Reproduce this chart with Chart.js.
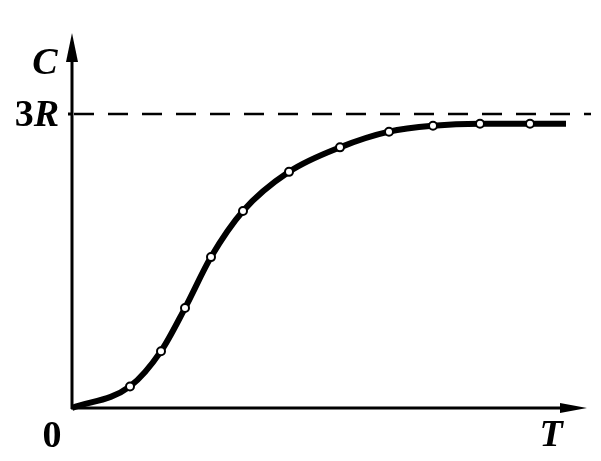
<!DOCTYPE html>
<html>
<head>
<meta charset="utf-8">
<script src="https://cdn.jsdelivr.net/npm/chart.js@4/dist/chart.umd.min.js"></script>
<style>
  html, body { margin: 0; padding: 0; background: #fff; }
  canvas { display: block; }
</style>
</head>
<body>
<canvas id="heat-chart" width="601" height="461"></canvas>
<script>
// temperature T (arbitrary units) and heat capacity C (in units of R)
const tValues = [0, 1.16, 1.78, 2.26, 2.78, 3.42, 4.34, 5.36, 6.34, 7.22, 8.16, 9.16, 9.88];
const cValues = [0, 0.22, 0.58, 1.02, 1.54, 2.01, 2.41, 2.66, 2.82, 2.88, 2.90, 2.90, 2.90];
const showMarker = [false, true, true, true, true, true, true, true, true, true, true, true, false];
const limitValue = 3;       // 3R
const limitNumber = "3";
const limitUnit = "R";
const xLabel = "T";
const yLabel = "C";
const originLabel = "0";

const points = tValues.map((t, i) => ({ x: t, y: cValues[i] }));

const axesPlugin = {
  id: "axesPlugin",
  beforeDatasetsDraw(chart) {
    const ctx = chart.ctx;
    const xs = chart.scales.x, ys = chart.scales.y;
    const x0 = xs.getPixelForValue(0), y0 = ys.getPixelForValue(0);
    const xEnd = xs.right, yTop = ys.top;
    const yLim = ys.getPixelForValue(limitValue);
    ctx.save();
    // dashed limit line
    ctx.strokeStyle = "#000";
    ctx.lineWidth = 2.5;
    ctx.setLineDash([20, 14]);
    ctx.beginPath();
    ctx.moveTo(x0 + 2, yLim);
    ctx.lineTo(xEnd + 4, yLim);
    ctx.stroke();
    ctx.setLineDash([]);
    // axes
    ctx.lineWidth = 3;
    ctx.beginPath();
    ctx.moveTo(x0, y0 + 1);
    ctx.lineTo(x0, yTop + 20);
    ctx.moveTo(x0 - 1, y0);
    ctx.lineTo(xEnd - 20, y0);
    // small tick at 3R
    ctx.moveTo(x0 - 4, yLim);
    ctx.lineTo(x0, yLim);
    ctx.stroke();
    ctx.fillStyle = "#000";
    // y arrow
    ctx.beginPath();
    ctx.moveTo(x0, yTop);
    ctx.lineTo(x0 - 6, yTop + 29);
    ctx.lineTo(x0 + 6, yTop + 29);
    ctx.closePath();
    ctx.fill();
    // x arrow
    ctx.beginPath();
    ctx.moveTo(xEnd, y0);
    ctx.lineTo(xEnd - 27, y0 - 5);
    ctx.lineTo(xEnd - 27, y0 + 5);
    ctx.closePath();
    ctx.fill();
    // labels
    ctx.textBaseline = "middle";
    ctx.font = "italic bold 38px 'Liberation Serif'";
    ctx.textAlign = "right";
    ctx.fillText(limitUnit, x0 - 13, yLim + 2);
    const rWidth = ctx.measureText(limitUnit).width;
    ctx.font = "bold 38px 'Liberation Serif'";
    ctx.fillText(limitNumber, x0 - 13 - rWidth, yLim + 2);
    ctx.textAlign = "center";
    ctx.fillText(originLabel, x0 - 20, y0 + 29);
    ctx.font = "italic bold 38px 'Liberation Serif'";
    ctx.fillText(yLabel, x0 - 27, yTop + 31);
    ctx.fillText(xLabel, xEnd - 36, y0 + 28);
    ctx.restore();
  }
};

new Chart(document.getElementById("heat-chart"), {
  type: "line",
  data: {
    datasets: [{
      data: points,
      borderColor: "#000",
      borderWidth: 6,
      cubicInterpolationMode: "monotone",
      pointRadius: showMarker.map(m => m ? 4 : 0),
      pointBackgroundColor: "#fff",
      pointBorderColor: "#000",
      pointBorderWidth: 2,
      fill: false,
      clip: false
    }]
  },
  options: {
    responsive: false,
    animation: false,
    devicePixelRatio: 1,
    layout: { padding: { left: 72, right: 14, top: 33, bottom: 53 } },
    plugins: { legend: { display: false }, tooltip: { enabled: false } },
    scales: {
      x: { type: "linear", min: 0, max: 10.3, display: false },
      y: { type: "linear", min: 0, max: 3.827, display: false }
    }
  },
  plugins: [axesPlugin]
});
</script>
</body>
</html>
